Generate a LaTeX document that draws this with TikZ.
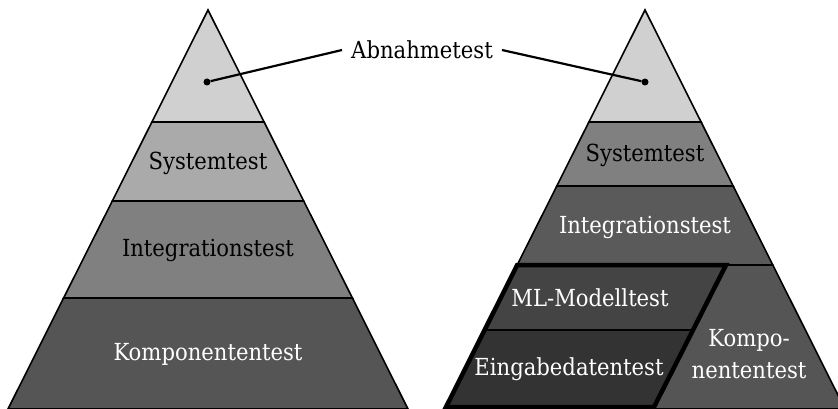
\documentclass[tikz,border=0pt]{standalone}
\usepackage{fontspec}
\setmainfont{DejaVu Serif Condensed}
\definecolor{toneA}{HTML}{D0D0D0}
\definecolor{toneB}{HTML}{AAAAAA}
\definecolor{toneC}{HTML}{808080}
\definecolor{toneD}{HTML}{5A5A5A}
\definecolor{toneE}{HTML}{555555}
\definecolor{toneF}{HTML}{444444}
\definecolor{toneG}{HTML}{333333}
\begin{document}
\begin{tikzpicture}[x=1pt,y=-1pt,
  layer/.style={draw=black, line width=1.6pt, line join=miter},
  lbl/.style={font=\fontsize{23.5}{32}\selectfont, text=white, inner sep=0pt, align=center},
  lbldark/.style={lbl, text=black},
  dot/.style={circle, fill=black, inner sep=0pt, minimum size=7pt},
  leader/.style={line width=2.2pt}]
\useasboundingbox (0,0) rectangle (838,409);
\begin{scope}
\clip (0,0) rectangle (838,409);

% ---- left pyramid ----
\coordinate (LA) at (208,10);
\coordinate (L1l) at (151.9,122); \coordinate (L1r) at (264.1,122);
\coordinate (L2l) at (112.3,201); \coordinate (L2r) at (303.7,201);
\coordinate (L3l) at (63.6,298);  \coordinate (L3r) at (352.4,298);
\coordinate (L4l) at (8,409);     \coordinate (L4r) at (408,409);
\filldraw[layer, fill=toneA] (LA) -- (L1r) -- (L1l) -- cycle;
\filldraw[layer, fill=toneB] (L1l) -- (L1r) -- (L2r) -- (L2l) -- cycle;
\filldraw[layer, fill=toneC] (L2l) -- (L2r) -- (L3r) -- (L3l) -- cycle;
\filldraw[layer, fill=toneE] (L3l) -- (L3r) -- (L4r) -- (L4l) -- cycle;

% ---- right pyramid ----
\coordinate (RA) at (645,10);
\coordinate (R1l) at (588.9,122); \coordinate (R1r) at (701.1,122);
\coordinate (R2l) at (556.8,186); \coordinate (R2r) at (733.2,186);
\coordinate (R3l) at (517.2,265); \coordinate (R3r) at (772.8,265);
\coordinate (R4l) at (445,409);   \coordinate (R4r) at (845,409);
\filldraw[layer, fill=toneA] (RA) -- (R1r) -- (R1l) -- cycle;
\filldraw[layer, fill=toneC] (R1l) -- (R1r) -- (R2r) -- (R2l) -- cycle;
\filldraw[layer, fill=toneD] (R2l) -- (R2r) -- (R3r) -- (R3l) -- cycle;
\filldraw[layer, fill=toneE] (R3l) -- (R3r) -- (R4r) -- (R4l) -- cycle;

% ML block inside the base layer
\coordinate (P1) at (517.2,265); \coordinate (P2) at (726,265);
\coordinate (Pm1) at (484.6,330); \coordinate (Pm2) at (693.5,330);
\coordinate (P3) at (654,407);   \coordinate (P4) at (446,407);
\fill[toneF] (P1) -- (P2) -- (Pm2) -- (Pm1) -- cycle;
\fill[toneG] (Pm1) -- (Pm2) -- (P3) -- (P4) -- cycle;
\draw[line width=1.4pt] (Pm1) -- (Pm2);
\draw[line width=4.5pt, line join=miter] (P1) -- (P2) -- (P3) -- (P4) -- cycle;
\end{scope}

% ---- labels ----
\node[lbldark] (lsys) at (208,163) {Systemtest};
\node[lbldark] (lint) at (208,250) {Integrationstest};
\node[lbl]     (lkom) at (208,354) {Komponententest};
\node[lbldark] (rsys) at (645,155) {Systemtest};
\node[lbl]     (rint) at (645,227) {Integrationstest};
\node[lbl]     (rml)  at (590,298) {ML-Modelltest};
\node[lbl]     (rein) at (569,369) {Eingabedatentest};
\node[lbl]     (rkom) at (749,354) {Kompo-\\nententest};

% ---- acceptance test callout ----
\node[dot] (dl) at (207,82) {};
\node[dot] (dr) at (645,82) {};
\node[lbldark, inner xsep=9pt] (abn) at (422,50) {Abnahmetest};
\draw[leader] (dl) -- (abn.west);
\draw[leader] (abn.east) -- (dr);
\end{tikzpicture}
\end{document}
